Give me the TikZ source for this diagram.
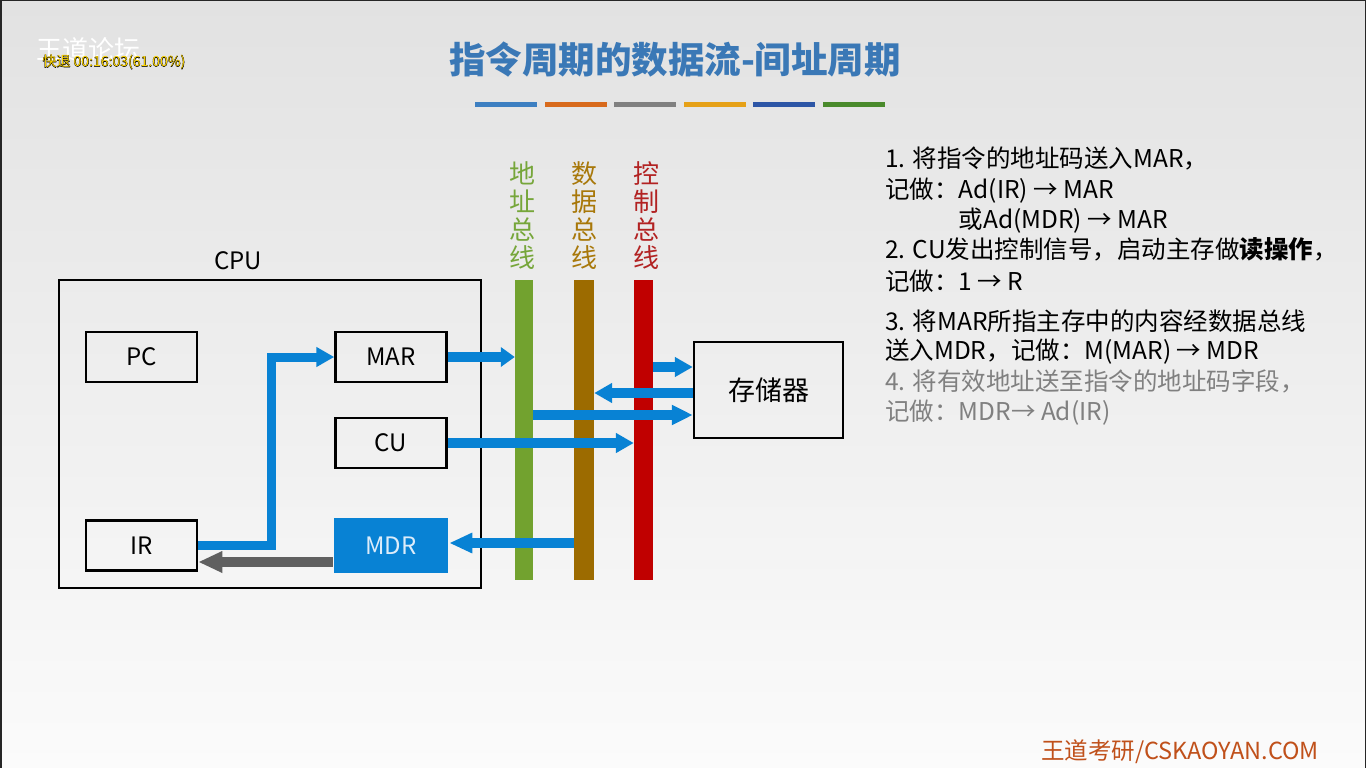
\documentclass[tikz,border=0pt]{standalone}
\usepackage{fontspec}
\setmainfont{Noto Sans CJK SC}
\newfontfamily\osdfont{Noto Sans CJK SC}[FakeBold=3]
\usetikzlibrary{arrows.meta,calc}
\definecolor{bgtop}{RGB}{226,226,226}
\definecolor{bgbot}{RGB}{251,251,251}
\definecolor{titleblue}{RGB}{58,120,182}
\definecolor{barblue}{RGB}{61,127,193}
\definecolor{barorange}{RGB}{216,106,28}
\definecolor{bargray}{RGB}{128,128,128}
\definecolor{baryellow}{RGB}{230,161,23}
\definecolor{bardblue}{RGB}{45,86,166}
\definecolor{bargreen}{RGB}{74,138,44}
\definecolor{cpublue}{RGB}{8,130,212}
\definecolor{mdrtext}{RGB}{220,236,250}
\definecolor{backgray}{RGB}{96,96,96}
\definecolor{abusgreen}{RGB}{114,162,47}
\definecolor{dbusbrown}{RGB}{156,107,0}
\definecolor{cbusred}{RGB}{192,0,0}
\definecolor{alabelgreen}{RGB}{118,166,58}
\definecolor{dlabelbrown}{RGB}{168,120,10}
\definecolor{clabelred}{RGB}{178,34,34}
\definecolor{notegray}{RGB}{128,128,128}
\definecolor{logobrown}{RGB}{192,80,26}
\definecolor{osdyellow}{RGB}{255,214,0}

\begin{document}
\begin{tikzpicture}[x=1pt,y=-1pt,
  reg/.style={draw, line width=2.5pt, minimum width=111pt, minimum height=50pt, inner sep=0pt, font=\fontsize{24}{24}\selectfont},
  bus/.style={minimum width=19pt, minimum height=300pt, inner sep=0pt},
  buslabel/.style={align=center, inner sep=0pt, font=\fontsize{26}{28}\selectfont},
  flow/.style={draw=cpublue, line width=10pt, -{Triangle[length=18pt,width=19pt]}},
  back/.style={draw=backgray, line width=10pt, -{Triangle[length=24pt,width=20pt]}},
  note/.style={anchor=west, inner sep=0pt, text height=21.5pt, text depth=3pt, font=\fontsize{24.5}{24.5}\selectfont},
  osd/.style={inner sep=0pt, font=\fontsize{14}{14}\selectfont}]
  \useasboundingbox (0,0) rectangle (1366,768);

  %--- Slide background ---
  \shade[top color=bgtop, bottom color=bgbot] (0,0) rectangle (1366,768);
  \draw[line width=3pt, black!85] (0,768) -- (0,0) -- (1366,0) -- (1366,768);

  %--- Watermarks ---
  \node[font=\fontsize{26}{26}\selectfont, text=white] (forum) at (88,50) {王道论坛};
  \node[osd, text=black, font=\fontsize{14}{14}\osdfont] (osdshadow) at (114,62) {快退 00:16:03(61.00\%)};
  \node[osd, text=osdyellow] (osd) at (114,62) {快退 00:16:03(61.00\%)};

  %--- Title ---
  \node[font=\fontsize{36.5}{36.5}\selectfont\bfseries, text=titleblue] (title) at (675,60) {指令周期的数据流-间址周期};
  \foreach \c [count=\i from 0] in {barblue,barorange,bargray,baryellow,bardblue,bargreen}
    \fill[\c] (475+69.5*\i,102) rectangle ++(62,5);

  %--- CPU ---
  \node[draw, line width=2.5pt, minimum width=422pt, minimum height=308pt] (cpu) at (270,434) {};
  \node[font=\fontsize{24}{24}\selectfont] (cpulabel) at (238,261) {CPU};
  \node[reg] (pc) at (141.5,357) {PC};
  \node[reg] (mar) at (391,357) {MAR};
  \node[reg] (cu) at (391,443) {CU};
  \node[reg] (ir) at (141.5,545.5) {IR};
  \node[reg, draw=none, fill=cpublue, text=mdrtext, minimum width=114pt, minimum height=55pt] (mdr) at (391,545.5) {MDR};

  %--- Buses ---
  \node[bus, fill=abusgreen, minimum width=18pt] (abus) at (524,430) {};
  \node[bus, fill=dbusbrown, minimum width=20pt] (dbus) at (584,430) {};
  \node[bus, fill=cbusred] (cbus) at (643.5,430) {};
  \node[buslabel, text=alabelgreen] (alabel) at (522,216) {地\\址\\总\\线};
  \node[buslabel, text=dlabelbrown] (dlabel) at (584,216) {数\\据\\总\\线};
  \node[buslabel, text=clabelred] (clabel) at (646,216) {控\\制\\总\\线};

  %--- Memory ---
  \node[draw, line width=2.5pt, minimum width=149pt, minimum height=96pt, font=\fontsize{27}{27}\selectfont] (mem) at (768.5,390) {存储器};

  %--- Data flow ---
  \draw[flow, line width=9pt] (ir.east) -- ++(73,0) |- (mar.west);
  \draw[flow, -{Triangle[length=14pt,width=19pt]}] (mar.east) -- (mar.east -| abus.west);
  \draw[flow] ([yshift=23pt]mem.west -| cbus.east) -- ([yshift=23pt]mem.west);
  \draw[flow] ([yshift=-3pt]mem.west) -- ([yshift=-3pt]mem.west -| dbus.east);
  \draw[flow, -{Triangle[length=21pt,width=19pt]}] ([yshift=-25pt]mem.west -| abus.east) -- ([yshift=-25pt]mem.west);
  \draw[flow] (cu.east) -- (cu.east -| cbus.west);
  \draw[flow, -{Triangle[length=23pt,width=19pt]}] ([yshift=2.5pt]mdr.east -| dbus.west) -- ([yshift=2.5pt]mdr.east);
  \draw[back] ([yshift=-16.5pt]mdr.west) -- ([yshift=-16.5pt]mdr.west -| ir.east);

  %--- Steps ---
  \node[note] (note1) at (885,158) {1. 将指令的地址码送入MAR，};
  \node[note] (note2) at (885,189) {记做：Ad(IR) → MAR};
  \node[note] (note3) at (885,219) {\phantom{记做：}或Ad(MDR) → MAR};
  \node[note] (note4) at (885,249) {2. CU发出控制信号，启动主存做{\bfseries 读操作}，};
  \node[note] (note5) at (885,281) {记做：1 → R};
  \node[note] (note6) at (885,321) {3. 将MAR所指主存中的内容经数据总线};
  \node[note] (note7) at (885,350) {送入MDR，记做：M(MAR) → MDR};
  \node[note, text=notegray] (note8) at (885,381) {4. 将有效地址送至指令的地址码字段，};
  \node[note, text=notegray] (note9) at (885,411) {记做：MDR→ Ad(IR)};

  %--- Logo ---
  \node[font=\fontsize{23.5}{23.5}\selectfont, text=logobrown] (logo) at (1180,752) {王道考研/CSKAOYAN.COM};
\end{tikzpicture}
\end{document}
